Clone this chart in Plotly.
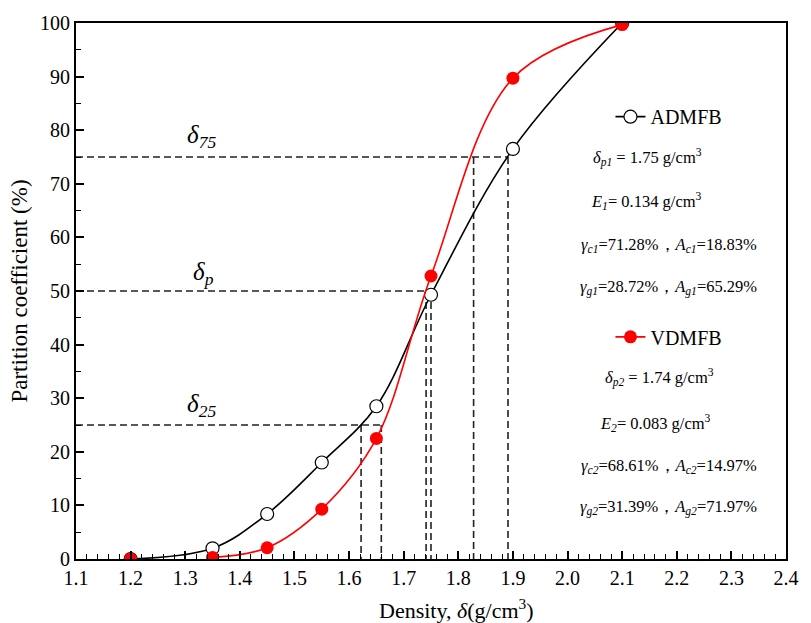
import plotly.graph_objects as go

# ---------------- data ----------------
density = [1.2, 1.35, 1.45, 1.55, 1.65, 1.75, 1.90, 2.10]
admfb = [0.0, 2.0, 8.4, 18.0, 28.5, 49.3, 76.5, 100.0]
vdmfb = [0.0, 0.3, 2.1, 9.3, 22.5, 52.8, 89.7, 99.7]

levels = [25, 50, 75]                 # partition levels (%)
level_x = [[1.622, 1.659],            # delta25 (VDMFB-side / ADMFB-side)
           [1.741, 1.750],            # delta p
           [1.828, 1.891]]            # delta75
level_labels = ["<i>δ</i><sub><i>25</i></sub>", "<i>δ</i><sub><i>p</i></sub>", "<i>δ</i><sub><i>75</i></sub>"]

x_ticks = [1.1, 1.2, 1.3, 1.4, 1.5, 1.6, 1.7, 1.8, 1.9, 2.0, 2.1, 2.2, 2.3, 2.4]
y_ticks = [0, 10, 20, 30, 40, 50, 60, 70, 80, 90, 100]

info1 = ["<i>δ</i><sub><i>p1</i></sub> = 1.75 g/cm<sup>3</sup>",
         "<i>E</i><sub><i>1</i></sub>= 0.134 g/cm<sup>3</sup>",
         "<i>γ</i><sub><i>c1</i></sub>=71.28%，<i>A</i><sub><i>c1</i></sub>=18.83%",
         "<i>γ</i><sub><i>g1</i></sub>=28.72%，<i>A</i><sub><i>g1</i></sub>=65.29%"]
info2 = ["<i>δ</i><sub><i>p2</i></sub> = 1.74 g/cm<sup>3</sup>",
         "<i>E</i><sub><i>2</i></sub>= 0.083 g/cm<sup>3</sup>",
         "<i>γ</i><sub><i>c2</i></sub>=68.61%，<i>A</i><sub><i>c2</i></sub>=14.97%",
         "<i>γ</i><sub><i>g2</i></sub>=31.39%，<i>A</i><sub><i>g2</i></sub>=71.97%"]

FONT = "Liberation Serif"
L, R, T, B = 76, 15, 21, 64
W, H = 811, 623
PW, PH = W - L - R, H - T - B


def px(x):
    return (x - L) / PW


def py(y):
    return (H - B - y) / PH


fig = go.Figure()

DASH = dict(color="#222222", width=1.6, dash="7px,4px")
# dashed guide lines
for lev, xs in zip(levels, level_x):
    fig.add_trace(go.Scatter(x=[x_ticks[0], max(xs)], y=[lev, lev], mode="lines",
                             line=DASH, showlegend=False, hoverinfo="skip"))
    for xv in xs:
        fig.add_trace(go.Scatter(x=[xv, xv], y=[lev, 0], mode="lines",
                                 line=DASH, showlegend=False, hoverinfo="skip"))

# ADMFB curve
fig.add_trace(go.Scatter(x=density, y=admfb, mode="lines+markers", name="ADMFB",
                         line=dict(color="black", width=1.6, shape="spline", smoothing=1.0),
                         marker=dict(symbol="circle", size=13, color="white",
                                     line=dict(color="black", width=1.2)),
                         legend="legend"))
# VDMFB curve
fig.add_trace(go.Scatter(x=density[1:], y=vdmfb[1:], mode="lines+markers", name="VDMFB",
                         line=dict(color="#ff0000", width=1.6, shape="spline", smoothing=1.0),
                         marker=dict(symbol="circle", size=13, color="#ff0000"),
                         legend="legend2"))
fig.add_trace(go.Scatter(x=density[:1], y=vdmfb[:1], mode="markers",
                         marker=dict(symbol="circle", size=13, color="#ff0000"),
                         showlegend=False))

annotations = []
for lab, yv, xpix in zip(level_labels, [405, 272, 135], [203, 205, 203]):
    annotations.append(dict(x=px(xpix), y=py(yv), xref="paper", yref="paper", text=lab,
                            xanchor="center", yanchor="middle",
                            showarrow=False, font=dict(family=FONT, size=25, color="black")))
for txt, ypix, xpix in zip(info1, [156, 200, 244, 286], [656, 655, 677, 677]):
    annotations.append(dict(x=px(xpix), y=py(ypix), xref="paper", yref="paper", text=txt,
                            xanchor="center", yanchor="middle",
                            showarrow=False, font=dict(family=FONT, size=16.5, color="black")))
for txt, ypix, xpix in zip(info2, [377, 422, 466, 507], [668, 664, 677, 677]):
    annotations.append(dict(x=px(xpix), y=py(ypix), xref="paper", yref="paper", text=txt,
                            xanchor="center", yanchor="middle",
                            showarrow=False, font=dict(family=FONT, size=16.5, color="black")))
annotations.append(dict(x=px(462), y=py(609), xref="paper", yref="paper",
                        xanchor="center", yanchor="middle",
                        text="Density, <i>δ</i>(g/cm<sup>3</sup>)", showarrow=False,
                        font=dict(family=FONT, size=22, color="black")))

axis_common = dict(showgrid=False, zeroline=False, showline=True, linecolor="black",
                   linewidth=2, mirror=True, ticks="inside", tickcolor="black",
                   tickwidth=1.5, ticklen=8,
                   tickfont=dict(family=FONT, size=20, color="black"))

fig.update_layout(
    width=W, height=H,
    margin=dict(l=L, r=R, t=T, b=B),
    paper_bgcolor="white", plot_bgcolor="white",
    font=dict(family=FONT, color="black"),
    xaxis=dict(range=[1.1, 2.4], tickvals=x_ticks, ticktext=[f"{v:.1f}" for v in x_ticks],
               minor=dict(dtick=0.02, ticks="inside", ticklen=5, tickcolor="black", tickwidth=1.3),
               **axis_common),
    yaxis=dict(range=[0, 100], tickvals=y_ticks,
               title=dict(text="Partition coefficient (%)", font=dict(family=FONT, size=23, color="black"),
                          standoff=6),
               minor=dict(dtick=5, ticks="inside", ticklen=5, tickcolor="black", tickwidth=1.3),
               **axis_common),
    legend=dict(x=px(618), y=py(115), xanchor="left", yanchor="middle",
                bgcolor="rgba(0,0,0,0)", font=dict(family=FONT, size=20, color="black")),
    legend2=dict(x=px(618), y=py(336), xanchor="left", yanchor="middle",
                 bgcolor="rgba(0,0,0,0)", font=dict(family=FONT, size=20, color="black")),
    annotations=annotations,
)

fig.write_html("out.html")
